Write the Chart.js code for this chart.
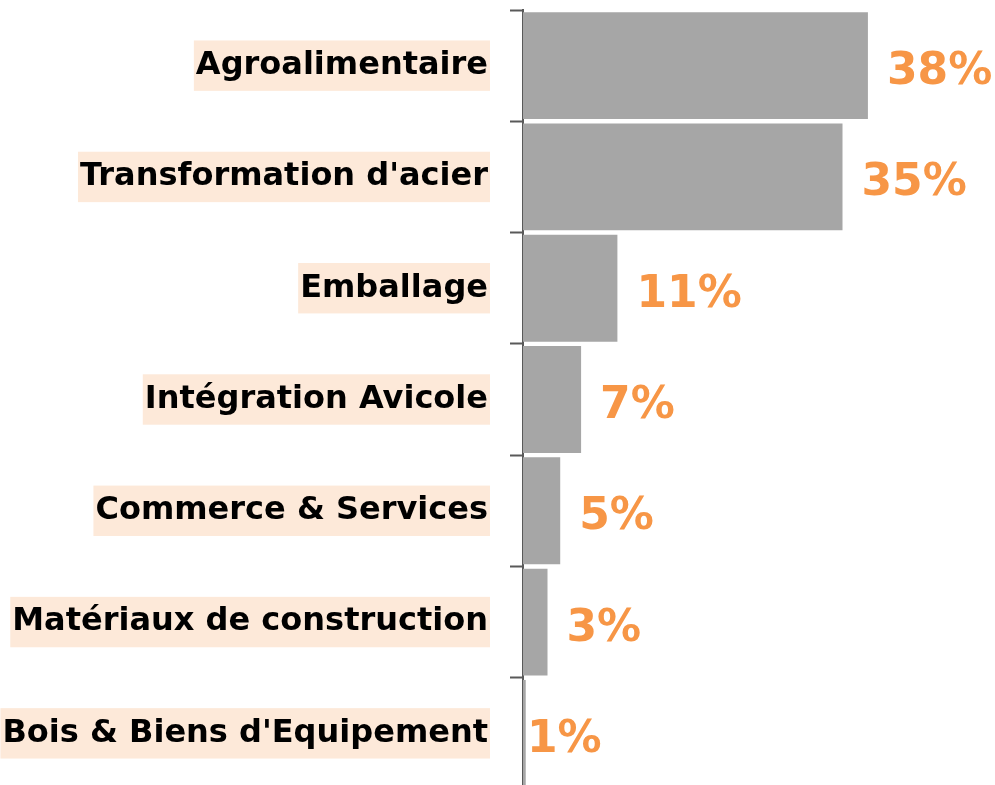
<!DOCTYPE html>
<html>
<head>
<meta charset="utf-8">
<script src="https://cdn.jsdelivr.net/npm/chart.js@4/dist/chart.umd.min.js"></script>
<style>
  html, body { margin: 0; padding: 0; background: #fff; overflow: hidden; }
  #wrap { position: relative; width: 995px; height: 790px; }
</style>
</head>
<body>
<div id="wrap"><canvas id="chart"></canvas></div>
<script>
// Secteurs et parts
const categories = [
    'Agroalimentaire',
    "Transformation d'acier",
    'Emballage',
    'Intégration Avicole',
    'Commerce & Services',
    'Matériaux de construction',
    "Bois & Biens d'Equipement"
];
const shares = [38, 35.2, 10.4, 6.4, 4.1, 2.7, 0.3];
const shareLabels = ['38%', '35%', '11%', '7%', '5%', '3%', '1%'];

const ORANGE = '#F79646';
const LABEL_FONT = '"DejaVu Sans", sans-serif';

// étiquettes de valeur à droite des barres
const valueLabels = {
    id: 'valueLabels',
    afterDatasetsDraw(chart) {
        const ctx = chart.ctx;
        const meta = chart.getDatasetMeta(0);
        ctx.save();
        ctx.fillStyle = ORANGE;
        ctx.font = 'bold 44px ' + LABEL_FONT;
        ctx.textAlign = 'left';
        ctx.textBaseline = 'middle';
        meta.data.forEach((bar, i) => {
            const w = bar.x - bar.base;
            const x = w < 10 ? bar.base + 4 : bar.x + 19;
            ctx.fillText(shareLabels[i], x, bar.y + 7);
        });
        ctx.restore();
    }
};

const ctx = document.getElementById('chart').getContext('2d');
new Chart(ctx, {
    type: 'bar',
    data: {
        labels: categories,
        datasets: [{
            data: shares,
            backgroundColor: '#A6A6A6',
            borderWidth: 0,
            barPercentage: 0.96,
            categoryPercentage: 1
        }]
    },
    options: {
        indexAxis: 'y',
        responsive: true,
        maintainAspectRatio: false,
        animation: false,
        layout: { padding: { top: 10, bottom: 1, right: 0, left: 0 } },
        plugins: {
            legend: { display: false },
            tooltip: { enabled: false }
        },
        scales: {
            x: {
                display: false,
                min: 0,
                max: 52
            },
            y: {
                afterFit: (scale) => {
                    scale.width = 523;
                    scale.paddingTop = 0;
                    scale.paddingBottom = 0;
                },
                border: { display: true, color: '#595959', width: 2 },
                grid: {
                    drawOnChartArea: false,
                    offset: true,
                    tickLength: 13,
                    tickColor: '#595959',
                    tickWidth: 2
                },
                ticks: {
                    color: '#000',
                    padding: 22,
                    font: { family: LABEL_FONT, size: 32, weight: 'bold' },
                    showLabelBackdrop: true,
                    backdropColor: '#FDE9D9',
                    backdropPadding: { x: 2, y: 6 }
                }
            }
        }
    },
    plugins: [valueLabels]
});
</script>
</body>
</html>
